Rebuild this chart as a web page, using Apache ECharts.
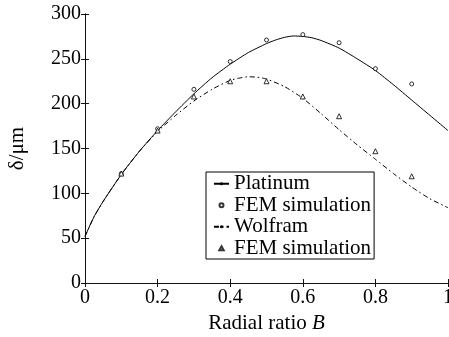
<!DOCTYPE html>
<html>
<head>
<meta charset="utf-8">
<script src="https://cdn.jsdelivr.net/npm/echarts@6/dist/echarts.min.js"></script>
<style>html,body{margin:0;padding:0;background:#fff}#c{width:449px;height:337px}</style>
</head>
<body>
<div id="c"></div>
<script>
// Curve: Platinum (x = radial ratio B, y = delta in um)
const platinumX = [0, 0.025, 0.05, 0.1, 0.15, 0.2, 0.25, 0.3, 0.35, 0.4, 0.45, 0.5, 0.525, 0.55, 0.575, 0.6, 0.625, 0.65, 0.7, 0.75, 0.8, 0.85, 0.9, 0.95, 1.0];
const platinumY = [52, 74, 91, 121, 147, 170, 191, 211, 229, 244, 257, 267, 271, 274, 275.5, 275, 273.5, 270.5, 262, 250, 237, 221, 204, 187, 170];
// Curve: Wolfram
const wolframX = [0, 0.025, 0.05, 0.1, 0.15, 0.2, 0.25, 0.3, 0.35, 0.4, 0.425, 0.45, 0.475, 0.5, 0.55, 0.6, 0.65, 0.7, 0.75, 0.8, 0.85, 0.9, 0.95, 1.0];
const wolframY = [52, 74, 91, 121, 147, 169, 187, 203, 216, 226, 228.5, 230, 229.5, 227.5, 219, 206, 189, 171, 154, 138, 122, 107, 94, 84];
// FEM simulation points
const femPtX = [0.1, 0.2, 0.3, 0.4, 0.5, 0.6, 0.7, 0.8, 0.9];
const femPtY = [122, 172, 216, 247, 271, 277, 268, 239, 222];
const femWX = [0.1, 0.2, 0.3, 0.4, 0.5, 0.6, 0.7, 0.8, 0.9];
const femWY = [122, 170, 208, 225, 225, 208, 186, 147, 119];
// Axis ticks
const xTicks = [0, 0.2, 0.4, 0.6, 0.8, 1];
const yTicks = [0, 50, 100, 150, 200, 250, 300];
const xLabels = ['0', '0.2', '0.4', '0.6', '0.8', '1'];

const zip = (xs, ys) => xs.map((x, i) => [x, ys[i]]);
const FONT = 'Liberation Serif, Times New Roman, serif';
const AX = '#111';
const TRI = 'path://M5,0L10,9L0,9Z';

const chart = echarts.init(document.getElementById('c'), null, {renderer: 'canvas'});

const baseX = {
  type: 'value', min: xTicks[0], max: xTicks[xTicks.length - 1], interval: 0.2,
  splitLine: {show: false},
  axisLine: {show: true, lineStyle: {color: AX, width: 1}},
  axisTick: {show: true, inside: true, length: 4, lineStyle: {color: AX}},
};
const baseY = {
  type: 'value', min: yTicks[0], max: yTicks[yTicks.length - 1], interval: 50,
  splitLine: {show: false},
  axisLine: {show: true, lineStyle: {color: AX, width: 1}},
  axisTick: {show: true, inside: true, length: 4, lineStyle: {color: AX}},
};

chart.setOption({
  animation: false,
  backgroundColor: '#fff',
  textStyle: {fontFamily: FONT},
  grid: {left: 85, right: 1, top: 14, bottom: 54, containLabel: false, outerBoundsMode: 'none'},
  xAxis: [
    Object.assign({}, baseX, {
      position: 'bottom',
      axisLabel: {show: true, margin: 5, color: '#000', fontSize: 20, fontFamily: FONT, hideOverlap: false,
        formatter: v => { const i = xTicks.findIndex(t => Math.abs(t - v) < 1e-9); return i >= 0 ? xLabels[i] : ''; }},
      name: '{n|Radial ratio }{i|B}',
      nameLocation: 'middle', nameGap: 18,
      nameTextStyle: {color: '#000', fontSize: 21, fontFamily: FONT,
        rich: {n: {fontSize: 21, fontFamily: FONT, color: '#000'}, i: {fontSize: 21, fontFamily: FONT, fontStyle: 'italic', color: '#000'}}}
    }),
    Object.assign({}, baseX, {position: 'top', axisLabel: {show: false}})
  ],
  yAxis: [
    Object.assign({}, baseY, {
      position: 'left',
      axisLabel: {show: true, margin: 4, color: '#000', fontSize: 20, fontFamily: FONT},
      name: 'δ/μm', nameLocation: 'middle', nameGap: 57, nameRotate: 90,
      nameTextStyle: {color: '#000', fontSize: 21, fontFamily: FONT}
    }),
    Object.assign({}, baseY, {position: 'right', axisLabel: {show: false}})
  ],
  legend: {
    show: true, orient: 'vertical', left: 206, top: 172,
    padding: [1, 3, 0, 7], itemGap: 0,
    itemWidth: 15, itemHeight: 4, symbolKeepAspect: true,
    backgroundColor: '#fff', borderColor: '#000', borderWidth: 1, borderRadius: 0,
    textStyle: {color: '#000', fontSize: 21, fontFamily: FONT, lineHeight: 21.5},
    formatter: n => n.replace(/ \(.*\)$/, ''),
    data: [
      {name: 'Platinum'},
      {name: 'FEM simulation (Pt)', icon: 'circle'},
      {name: 'Wolfram'},
      {name: 'FEM simulation (W)', icon: TRI}
    ]
  },
  series: [
    {name: 'Platinum', type: 'line', data: zip(platinumX, platinumY), smooth: 0.2,
      symbol: 'none', lineStyle: {color: '#000', width: 1}, itemStyle: {color: '#000'}, z: 3},
    {name: 'FEM simulation (Pt)', type: 'scatter', data: zip(femPtX, femPtY), symbol: 'circle', symbolSize: 4,
      itemStyle: {color: '#fff', borderColor: '#000', borderWidth: 1}, z: 4},
    {name: 'Wolfram', type: 'line', data: zip(wolframX, wolframY), smooth: 0.2,
      symbol: 'none', lineStyle: {color: '#000', width: 1, type: [5, 3, 1.5, 3]}, itemStyle: {color: '#000'}, z: 3},
    {name: 'FEM simulation (W)', type: 'scatter', data: zip(femWX, femWY), symbol: 'triangle', symbolSize: 5,
      itemStyle: {color: '#fff', borderColor: '#000', borderWidth: 1}, z: 4}
  ]
});
</script>
</body>
</html>
